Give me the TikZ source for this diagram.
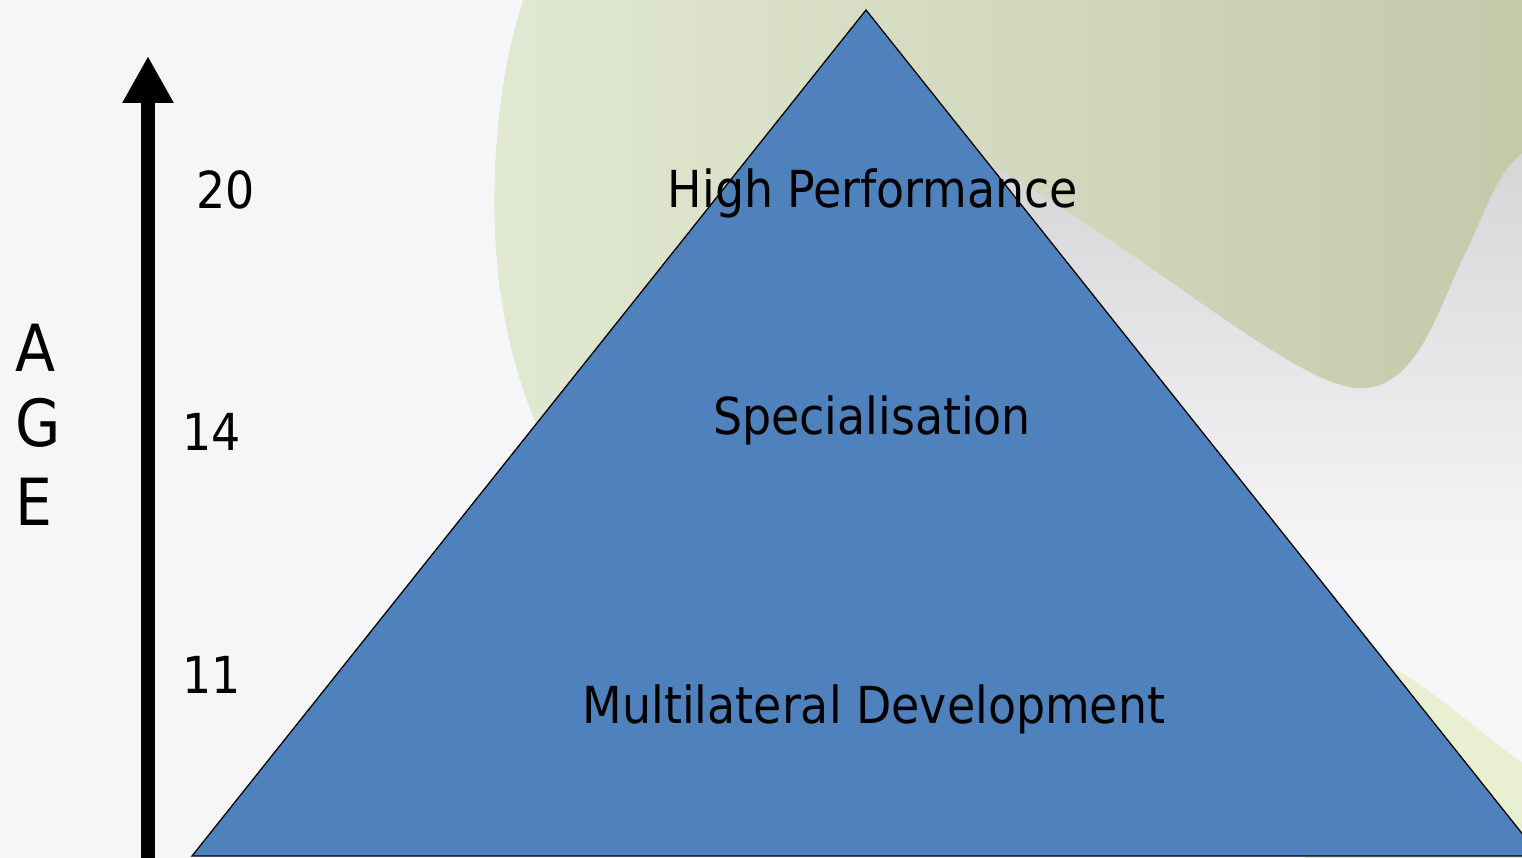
\documentclass[tikz,border=0pt]{standalone}
\usepackage{fontspec}
\setmainfont{DejaVu Sans Condensed}
\usepackage{xcolor}
\usetikzlibrary{arrows.meta, positioning}

\definecolor{pyramidblue}{RGB}{79,129,189}
\definecolor{slide}{RGB}{246,246,249}
\definecolor{haze}{RGB}{226,226,230}
\definecolor{greyband}{RGB}{211,211,213}
\definecolor{leaflight}{RGB}{226,233,210}
\definecolor{leafdark}{RGB}{196,201,170}
\definecolor{leafpale}{RGB}{233,240,210}

\tikzstyle{level} = [font=\fontsize{51}{60}\selectfont, inner sep=0pt, anchor=base]
\tikzstyle{ageletter} = [font=\fontsize{65}{70}\selectfont, inner sep=0pt, anchor=base west]
\tikzstyle{agearrow} = [line width=14pt, -{Triangle[width=48pt, length=47pt]}]
\tikzstyle{pyramid} = [fill=pyramidblue, draw=black, line width=1.3pt, line join=miter]

\begin{document}
\begin{tikzpicture}[x=1pt, y=-1pt]
\useasboundingbox (0,0) rectangle (1522,858);
\begin{scope}
\clip (0,0) rectangle (1522,858);

% Background
\fill [slide] (0,0) rectangle (1522,858);
\shade [top color=slide, middle color=haze!60!slide, bottom color=slide] (0,180) rectangle (600,250);
\shade [top color=slide, middle color=haze, bottom color=slide] (0,320) rectangle (600,400);

% Grey band under the leaf
\shade [top color=greyband, bottom color=slide] (900,120) -- (1530,120) -- (1530,560) -- (1100,560) -- cycle;

% Leaf shapes
\shade [left color=leaflight, right color=leafdark]
  (525,-5) .. controls (495,80) and (488,200) .. (500,290)
  .. controls (510,360) and (530,420) .. (560,470)
  -- (900,130) -- (960,148)
  .. controls (1120,230) and (1290,385) .. (1357,388)
  .. controls (1420,392) and (1440,300) .. (1467,250)
  .. controls (1490,200) and (1500,165) .. (1530,148)
  -- (1530,-5) -- cycle;
\fill [leafpale] (1380,660) .. controls (1400,672) and (1415,680) .. (1450,707)
  .. controls (1480,730) and (1500,748) .. (1530,768) -- (1530,870) -- (1300,870) -- cycle;

% Pyramid
\draw [pyramid] (866,10) -- (192,856) -- (1540,856) -- cycle;
\end{scope}

% Age axis
\coordinate (axisfoot) at (148,858);
\coordinate (axistop) at (148,56);
\draw [agearrow] (axisfoot) -- (axistop);

\node [level] (age20) at (226,209) {20};
\node [level] (age14) at (212,450) {14};
\node [level] (age11) at (212,693) {11};

\node [ageletter] (ageA) at (15,371) {A};
\node [ageletter] (ageG) at (15,446) {G};
\node [ageletter] (ageE) at (15,525) {E};

% Levels
\node [level] (high) at (873,208) {High Performance};
\node [level] (spec) at (872,434) {Specialisation};
\node [level] (multi) at (874,723) {Multilateral Development};

\end{tikzpicture}
\end{document}
